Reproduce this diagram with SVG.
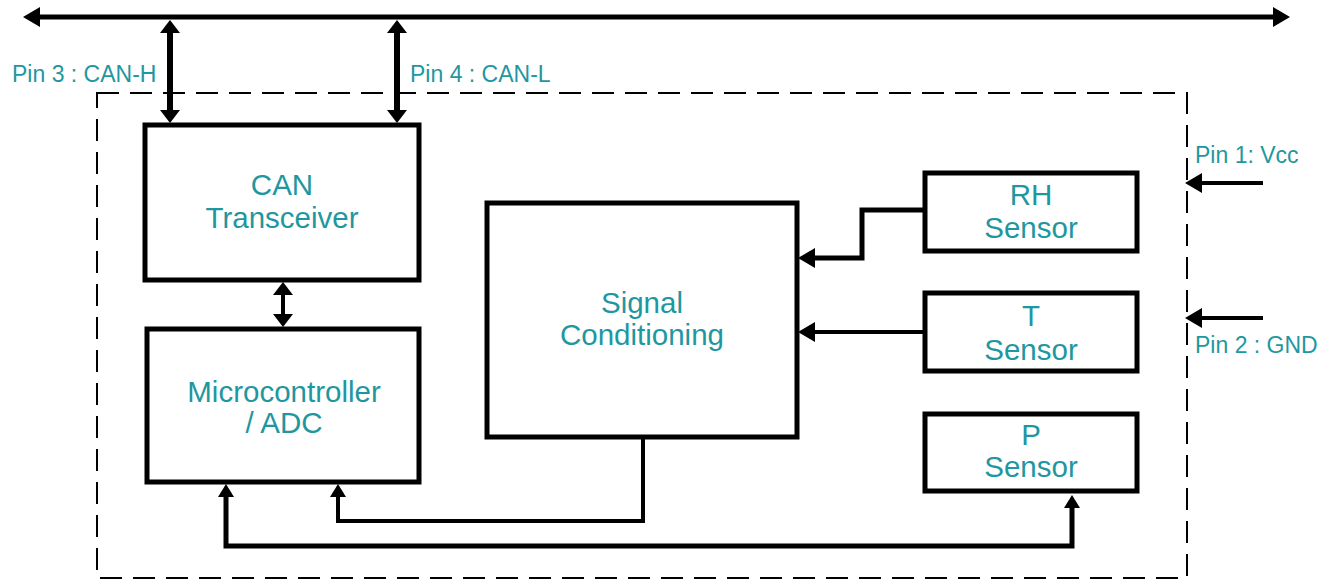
<svg xmlns="http://www.w3.org/2000/svg" width="1332" height="582" viewBox="0 0 1332 582">
<style>
.box{fill:#fff;stroke:#000;stroke-width:5}
.lbl{font-family:"Liberation Sans",Arial,sans-serif;font-size:29.5px;fill:#1f97a0;text-anchor:middle}
.pin{font-family:"Liberation Sans",Arial,sans-serif;font-size:23px;fill:#1f97a0}
.c{fill:none;stroke:#000;stroke-linejoin:miter}
</style>
<defs>
<marker id="ah" viewBox="0 0 17 20" markerWidth="17" markerHeight="20" refX="12" refY="10" orient="auto-start-reverse" markerUnits="userSpaceOnUse"><path d="M0,0 L17,10 L0,20 Z" fill="#000"/></marker>
<marker id="as" viewBox="0 0 13 20" markerWidth="13" markerHeight="20" refX="8" refY="10" orient="auto-start-reverse" markerUnits="userSpaceOnUse"><path d="M0,0 L13,10 L0,20 Z" fill="#000"/></marker>
<marker id="ab" viewBox="0 0 13 16" markerWidth="13" markerHeight="16" refX="8" refY="8" orient="auto-start-reverse" markerUnits="userSpaceOnUse"><path d="M0,0 L13,8 L0,16 Z" fill="#000"/></marker>
</defs>
<rect id="module-boundary" x="97" y="93" width="1090" height="485" fill="none" stroke="#000" stroke-width="2" stroke-dasharray="22 11"/>
<g id="connectors">
<path class="c" d="M28 17 H1285" stroke-width="5" marker-start="url(#ah)" marker-end="url(#ah)"/>
<path class="c" d="M170 25 V118" stroke-width="6" marker-start="url(#as)" marker-end="url(#as)"/>
<path class="c" d="M397 25 V118" stroke-width="6" marker-start="url(#as)" marker-end="url(#as)"/>
<path class="c" d="M283 287 V322" stroke-width="4" marker-start="url(#as)" marker-end="url(#as)"/>
<path class="c" d="M923 210 H862 V258 H803" stroke-width="5" marker-end="url(#ah)"/>
<path class="c" d="M923 332 H803" stroke-width="4" marker-end="url(#ah)"/>
<path class="c" d="M1263 183 H1190" stroke-width="4" marker-end="url(#ah)"/>
<path class="c" d="M1263 318 H1190" stroke-width="4" marker-end="url(#ah)"/>
<path class="c" d="M643 437 V521 H338 V489" stroke-width="4" marker-end="url(#ab)"/>
<path class="c" d="M226 489 V546 H1072 V500" stroke-width="5" marker-start="url(#ab)" marker-end="url(#ab)"/>
</g>
<g id="can">
<rect class="box" x="145" y="125" width="274" height="155"/>
<text class="lbl" x="282" y="195">CAN</text>
<text class="lbl" x="282" y="228">Transceiver</text>
</g>
<g id="mcu">
<rect class="box" x="147" y="329" width="272" height="153"/>
<text class="lbl" x="284" y="402">Microcontroller</text>
<text class="lbl" x="284" y="433">/ ADC</text>
</g>
<g id="signal">
<rect class="box" x="487" y="203" width="310" height="234"/>
<text class="lbl" x="642" y="313">Signal</text>
<text class="lbl" x="642" y="345">Conditioning</text>
</g>
<g id="rh">
<rect class="box" x="925" y="173" width="212" height="78"/>
<text class="lbl" x="1031" y="205">RH</text>
<text class="lbl" x="1031" y="238">Sensor</text>
</g>
<g id="t">
<rect class="box" x="925" y="293" width="212" height="78"/>
<text class="lbl" x="1031" y="326">T</text>
<text class="lbl" x="1031" y="360">Sensor</text>
</g>
<g id="p">
<rect class="box" x="925" y="414" width="212" height="77"/>
<text class="lbl" x="1031" y="445">P</text>
<text class="lbl" x="1031" y="477">Sensor</text>
</g>
<g id="pins">
<text class="pin" x="12" y="82">Pin 3 : CAN-H</text>
<text class="pin" x="410" y="82">Pin 4 : CAN-L</text>
<text class="pin" x="1195" y="163">Pin 1: Vcc</text>
<text class="pin" x="1195" y="353">Pin 2 : GND</text>
</g>
</svg>
